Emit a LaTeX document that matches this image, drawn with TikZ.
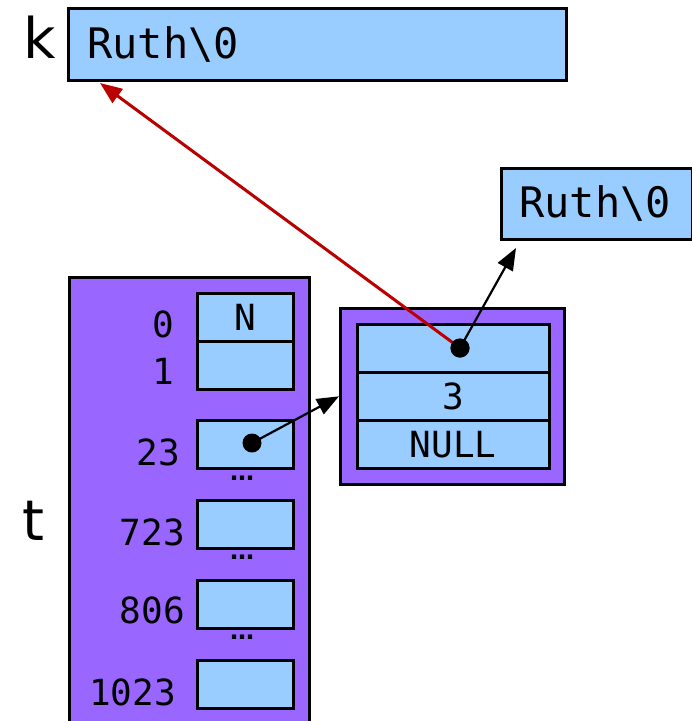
\documentclass[tikz,border=0pt]{standalone}
\usepackage{fontspec}
\newfontfamily\monofnt{DejaVu Sans Mono}
\newfontfamily\sansfnt{DejaVu Sans}
\usetikzlibrary{arrows.meta}
\definecolor{cellblue}{HTML}{99CCFF}
\definecolor{purp}{HTML}{9966FF}
\definecolor{ptrred}{HTML}{BB0000}
\begin{document}
\begin{tikzpicture}[x=1pt,y=-1pt,
  cell/.style={draw=black, line width=2.6pt, fill=cellblue, minimum width=96pt, minimum height=48pt, inner sep=0pt, anchor=north west, font=\monofnt\fontsize{36}{36}\selectfont},
  ncell/.style={cell, minimum width=192pt},
  strbox/.style={draw=black, line width=2.6pt, fill=cellblue, inner sep=0pt, anchor=north west},
  purpbox/.style={draw=black, line width=2.6pt, fill=purp, inner sep=0pt, anchor=north west},
  idx/.style={anchor=base east, inner sep=0pt, font=\monofnt\fontsize{36}{36}\selectfont},
  strtxt/.style={anchor=base west, inner sep=0pt, font=\monofnt\fontsize{42}{42}\selectfont},
  varlbl/.style={anchor=base, inner sep=0pt, font=\sansfnt\fontsize{56}{56}\selectfont},
  dotsl/.style={anchor=base, inner sep=0pt, font=\sansfnt\bfseries\fontsize{24}{24}\selectfont},
  ptrdot/.style={circle, fill=black, minimum size=19pt, inner sep=0pt},
  ptr/.style={-{Triangle[length=22pt,width=17pt]}, line width=2.2pt},
  redptr/.style={-{Triangle[length=22pt,width=17pt]}, line width=3pt, draw=ptrred, fill=ptrred}
]
\useasboundingbox (0,0) rectangle (692,721);

% k string
\node[strbox, minimum width=498pt, minimum height=72pt] (kbox) at (67,7) {};
\node[strtxt] (ktxt) at (87,58) {Ruth\textbackslash 0};
\node[varlbl] (klbl) at (40,58) {k};

% second string
\node[strbox, minimum width=191pt, minimum height=71pt] (sbox) at (500,167) {};
\node[strtxt] (stxt) at (519,217) {Ruth\textbackslash 0};

% array t
\node[purpbox, minimum width=240pt, minimum height=470pt] (tarr) at (68,276) {};
\node[varlbl] (tlbl) at (33,540) {t};

\node[cell] (c0) at (196,292) {N};
\node[cell] (c1) at (196,340) {};
\node[cell] (c23) at (196,419) {};
\node[cell] (c723) at (196,499) {};
\node[cell] (c806) at (196,579) {};
\node[cell] (c1023) at (196,659) {};

\node[idx] (i0) at (174,337) {0};
\node[idx] (i1) at (174,384) {1};
\node[idx] (i23) at (180,465) {23};
\node[idx] (i723) at (185,545) {723};
\node[idx] (i806) at (185,623) {806};
\node[idx] (i1023) at (176,705) {1023};

\node[dotsl] (d1) at (242,480) {…};
\node[dotsl] (d2) at (242,559) {…};
\node[dotsl] (d3) at (242,639) {…};

% list node
\node[purpbox, minimum width=224pt, minimum height=176pt] (lnode) at (339,307) {};
\node[ncell] (n1) at (356,323) {};
\node[ncell] (n2) at (356,371) {3};
\node[ncell] (n3) at (356,419) {NULL};

% pointers
\node[ptrdot] (p23) at (252,443) {};
\node[ptrdot] (pn) at (460,348) {};
\coordinate (ktip) at (100,83);
\coordinate (stip) at (516,248);

\draw[redptr] (pn.center) -- (ktip);
\draw[ptr] (p23.center) -- (lnode.west);
\draw[ptr] (pn.center) -- (stip);
\node[ptrdot] at (pn.center) {};
\end{tikzpicture}
\end{document}
